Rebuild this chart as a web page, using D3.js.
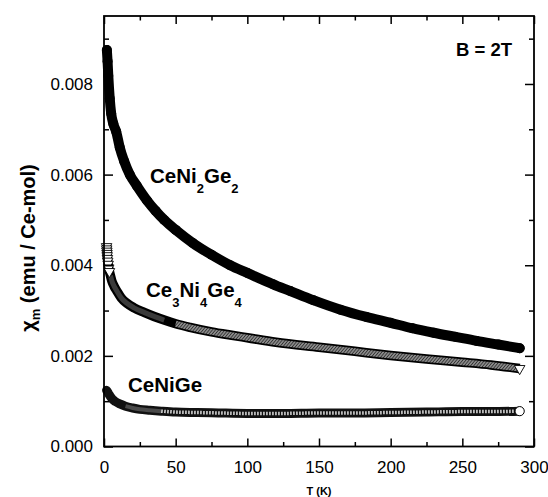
<!DOCTYPE html>
<html>
<head>
<meta charset="utf-8">
<script src="https://cdn.jsdelivr.net/npm/d3@7"></script>
<style>
  html, body { margin: 0; padding: 0; background: #fff; }
  svg { display: block; font-family: "Liberation Sans", Arial, Helvetica, sans-serif; }
</style>
</head>
<body>
<svg id="chart" width="548" height="497"></svg>
<script>
// ---------------- data ----------------
const xMajorTicks = [0, 50, 100, 150, 200, 250, 300];
const xMinorTicks = [25, 75, 125, 175, 225, 275];
const yMajorTicks = [0.000, 0.002, 0.004, 0.006, 0.008];
const yMinorTicks = [0.001, 0.003, 0.005, 0.007, 0.009];

// CeNi2Ge2 (filled circles)
const ceni2ge2T = [2.0, 2.5, 3.0, 4.0, 5.0, 6.5, 8.5, 11, 14, 18, 23, 30, 36, 42, 50, 62, 75, 88, 100, 118, 130, 146, 165, 183, 200, 215, 230, 245, 260, 275, 290];
const ceni2ge2Chi = [0.00875, 0.00850, 0.00818, 0.00768, 0.00735, 0.00712, 0.00695, 0.00660, 0.00630, 0.00600, 0.00575, 0.00543, 0.00520, 0.00500, 0.00478, 0.00449, 0.00423, 0.00400, 0.00383, 0.00358, 0.00343, 0.00323, 0.00302, 0.00286, 0.00273, 0.00261, 0.00251, 0.00242, 0.00233, 0.00225, 0.00217];

// Ce3Ni4Ge4 (open down-triangles)
const ce3ni4ge4T = [1.8, 1.9, 2.0, 2.1, 2.2, 2.4, 2.6, 2.9, 3.3, 3.8, 4.5, 5.5, 7, 9, 12, 16, 21, 28, 35, 42, 50, 60, 75, 88, 100, 120, 150, 175, 200, 225, 250, 270, 290];
const ce3ni4ge4Chi = [0.00441, 0.00436, 0.00431, 0.00426, 0.00421, 0.00415, 0.00409, 0.00402, 0.00394, 0.00386, 0.00377, 0.00365, 0.00354, 0.00343, 0.00328, 0.00316, 0.00306, 0.00296, 0.00287, 0.00279, 0.00271, 0.00263, 0.00253, 0.00246, 0.00240, 0.00230, 0.00219, 0.00210, 0.00201, 0.00193, 0.00186, 0.00180, 0.00172];

// CeNiGe (open circles)
const ceniGeT = [1.8, 2.2, 2.8, 3.5, 4.5, 6, 8, 11, 15, 20, 25, 32, 40, 50, 65, 80, 100, 125, 150, 175, 200, 225, 250, 270, 290];
const ceniGeChi = [0.00124, 0.00122, 0.00119, 0.00115, 0.00110, 0.00104, 0.00099, 0.00094, 0.00089, 0.00085, 0.00082, 0.00080, 0.00078, 0.00076, 0.00075, 0.00074, 0.00073, 0.00073, 0.00074, 0.00074, 0.00075, 0.00076, 0.00077, 0.00077, 0.00078];

// ---------------- chart ----------------
const svg = d3.select("#chart");
const L = 104, R = 534, T = 16, B = 446.5;
const x = d3.scaleLinear().domain([0, 300]).range([L, R]);
const y = d3.scaleLinear().domain([0, 0.0095]).range([B, T]);

const zip = (a, b) => a.map((v, i) => ({ t: v, c: b[i] }));
const s1 = zip(ceni2ge2T, ceni2ge2Chi);
const s2 = zip(ce3ni4ge4T, ce3ni4ge4Chi);
const s3 = zip(ceniGeT, ceniGeChi);

const defs = svg.append("defs");
const pat = defs.append("pattern").attr("id", "hatch")
  .attr("patternUnits", "userSpaceOnUse").attr("width", 2.4).attr("height", 2.4)
  .attr("patternTransform", "rotate(40)");
pat.append("rect").attr("width", 2.4).attr("height", 2.4).attr("fill", "#8a8a8a");
pat.append("line").attr("x1", 0).attr("y1", 0).attr("x2", 0).attr("y2", 2.4)
  .attr("stroke", "#111").attr("stroke-width", 1.2);

const line = d3.line().x(d => x(d.t)).y(d => y(d.c)).curve(d3.curveMonotoneX);

// ---- CeNiGe band ----
svg.append("path").attr("d", line(s3)).attr("fill", "none")
  .attr("stroke", "#111").attr("stroke-width", 9).attr("stroke-linecap", "round").attr("stroke-linejoin", "round");
svg.append("path").attr("d", line(s3.filter(d => d.t >= 15 && d.t <= 45))).attr("fill", "none")
  .attr("stroke", "#4a4a4a").attr("stroke-width", 4);
svg.append("path").attr("d", line(s3.filter(d => d.t >= 40))).attr("fill", "none")
  .attr("stroke", "#fff").attr("stroke-width", 3.5).attr("stroke-dasharray", "1.3,1.7");
svg.selectAll("circle.s3").data([s3[s3.length - 1]]).enter().append("circle")
  .attr("cx", d => x(d.t)).attr("cy", d => y(d.c)).attr("r", 4.6)
  .attr("fill", "#fff").attr("stroke", "#000").attr("stroke-width", 1);

// ---- Ce3Ni4Ge4 band ----
svg.append("path").attr("d", line(s2)).attr("fill", "none")
  .attr("stroke", "#000").attr("stroke-width", 9.5).attr("stroke-linejoin", "round");
svg.append("path").attr("d", line(s2.filter(d => d.t >= 45))).attr("fill", "none")
  .attr("stroke", "url(#hatch)").attr("stroke-width", 6);
svg.append("path").attr("d", line(s2.filter(d => d.t >= 4 && d.t <= 46))).attr("fill", "none")
  .attr("stroke", "#3a3a3a").attr("stroke-width", 5);
const tri = d3.symbol().type(d3.symbolTriangle).size(48);
svg.selectAll("path.s2").data(s2.filter(d => d.t < 4).concat([s2[s2.length - 1]])).enter().append("path")
  .attr("class", "s2")
  .attr("d", tri)
  .attr("transform", d => `translate(${x(d.t)},${y(d.c)}) rotate(180)`)
  .attr("fill", "#fff").attr("stroke", "#000").attr("stroke-width", 0.9);

// ---- CeNi2Ge2 (filled circles) ----
svg.append("path").attr("d", line(s1)).attr("fill", "none")
  .attr("stroke", "#000").attr("stroke-width", 10).attr("stroke-linecap", "round").attr("stroke-linejoin", "round");
svg.selectAll("circle.s1").data(s1).enter().append("circle")
  .attr("cx", d => x(d.t)).attr("cy", d => y(d.c)).attr("r", 5).attr("fill", "#000");

// ---------------- axes ----------------
function styleAxis(g) {
  g.select(".domain").remove();
  g.selectAll(".tick line").attr("stroke", "#000").attr("stroke-width", 1.5);
  g.selectAll("text").attr("fill", "#000").style("font-size", "17px")
    .style("font-family", '"Liberation Sans", Arial, sans-serif');
}
svg.append("g").attr("transform", `translate(0,${B})`)
  .call(d3.axisBottom(x).tickValues(xMajorTicks).tickSize(-8).tickPadding(14).tickFormat(d3.format("d")))
  .call(styleAxis);
svg.append("g").attr("transform", `translate(0,${B})`)
  .call(d3.axisBottom(x).tickValues(xMinorTicks).tickSize(-4.5).tickFormat(""))
  .call(styleAxis);
svg.append("g").attr("transform", `translate(0,${T})`)
  .call(d3.axisTop(x).tickValues(xMajorTicks).tickSize(-8).tickFormat(""))
  .call(styleAxis);
svg.append("g").attr("transform", `translate(0,${T})`)
  .call(d3.axisTop(x).tickValues(xMinorTicks).tickSize(-4.5).tickFormat(""))
  .call(styleAxis);
svg.append("g").attr("transform", `translate(${L},0)`)
  .call(d3.axisLeft(y).tickValues(yMajorTicks).tickSize(-9).tickPadding(11).tickFormat(d3.format(".3f")))
  .call(styleAxis);
svg.append("g").attr("transform", `translate(${L},0)`)
  .call(d3.axisLeft(y).tickValues(yMinorTicks).tickSize(-5).tickFormat(""))
  .call(styleAxis);
svg.append("g").attr("transform", `translate(${R},0)`)
  .call(d3.axisRight(y).tickValues(yMajorTicks).tickSize(-9).tickFormat(""))
  .call(styleAxis);
svg.append("g").attr("transform", `translate(${R},0)`)
  .call(d3.axisRight(y).tickValues(yMinorTicks).tickSize(-5).tickFormat(""))
  .call(styleAxis);

svg.append("rect").attr("x", L).attr("y", T).attr("width", R - L).attr("height", B - T)
  .attr("fill", "none").attr("stroke", "#000").attr("stroke-width", 1.8);

// ---------------- labels ----------------
svg.append("text").attr("x", (L + R) / 2).attr("y", 495).attr("text-anchor", "middle")
  .style("font-size", "11px").style("font-weight", "bold").text("T (K)");

const yl = svg.append("text").attr("transform", "translate(35,248) rotate(-90)")
  .attr("text-anchor", "middle").style("font-size", "20px").style("font-weight", "bold");
yl.append("tspan").text("χ");
yl.append("tspan").attr("dy", 5).style("font-size", "13px").text("m");
yl.append("tspan").attr("dy", -5).text(" (emu / Ce-mol)");

svg.append("text").attr("x", 456).attr("y", 56).style("font-size", "18.5px").style("font-weight", "bold").text("B = 2T");

function formula(xp, yp, parts) {
  const t = svg.append("text").attr("x", xp).attr("y", yp).style("font-size", "20.5px").style("font-weight", "bold");
  let sub = false;
  parts.forEach(p => {
    if (p.sub) {
      t.append("tspan").attr("dy", sub ? 0 : 10).style("font-size", "13px").text(p.s);
      sub = true;
    } else {
      t.append("tspan").attr("dy", sub ? -10 : 0).text(p.s);
      sub = false;
    }
  });
}
formula(150, 183, [{ s: "CeNi" }, { s: "2", sub: true }, { s: "Ge" }, { s: "2", sub: true }]);
formula(146, 297, [{ s: "Ce" }, { s: "3", sub: true }, { s: "Ni" }, { s: "4", sub: true }, { s: "Ge" }, { s: "4", sub: true }]);
formula(128, 392, [{ s: "CeNiGe" }]);
</script>
</body>
</html>
